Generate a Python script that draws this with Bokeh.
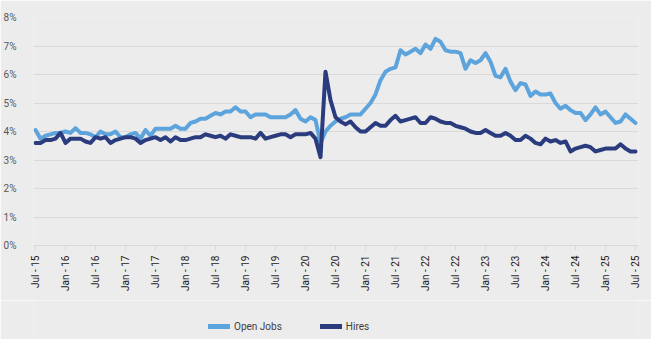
import math
from bokeh.plotting import figure
from bokeh.layouts import column
from bokeh.models import FixedTicker, Legend, LegendItem
from bokeh.embed import file_html
from bokeh.resources import INLINE

tick_labels = ["Jul - 15", "Jan - 16", "Jul - 16", "Jan - 17", "Jul - 17", "Jan - 18",
               "Jul - 18", "Jan - 19", "Jul - 19", "Jan - 20", "Jul - 20", "Jan - 21",
               "Jul - 21", "Jan - 22", "Jul - 22", "Jan - 23", "Jul - 23", "Jan - 24",
               "Jul - 24", "Jan - 25", "Jul - 25"]

y_ticks = [0, 1, 2, 3, 4, 5, 6, 7, 8]

series_names = ["Open Jobs", "Hires"]

# monthly rates (%), Jul 2015 .. Jul 2025
open_jobs = [4.05, 3.75, 3.85, 3.9, 3.95, 3.95, 4.0, 3.95, 4.12, 3.95, 3.95, 3.9,
             3.8, 4.0, 3.9, 3.9, 4.0, 3.8, 3.8, 3.9, 3.95, 3.75, 4.05, 3.85,
             4.1, 4.1, 4.1, 4.1, 4.2, 4.1, 4.1, 4.3, 4.35, 4.45, 4.45, 4.55,
             4.65, 4.6, 4.7, 4.7, 4.85, 4.7, 4.7, 4.5, 4.6, 4.6, 4.6, 4.5,
             4.5, 4.5, 4.5, 4.6, 4.75, 4.45, 4.35, 4.5, 4.4, 3.6, 4.0, 4.2,
             4.35, 4.45, 4.5, 4.6, 4.6, 4.6, 4.8, 5.0, 5.3, 5.8, 6.1, 6.2,
             6.25, 6.85, 6.7, 6.8, 6.9, 6.75, 7.05, 6.9, 7.25, 7.15, 6.85, 6.8,
             6.8, 6.75, 6.2, 6.5, 6.4, 6.5, 6.75, 6.45, 5.95, 5.9, 6.2, 5.75,
             5.45, 5.7, 5.65, 5.25, 5.4, 5.3, 5.3, 5.33, 5.0, 4.8, 4.9, 4.75,
             4.65, 4.65, 4.4, 4.6, 4.85, 4.6, 4.7, 4.5, 4.3, 4.35, 4.6, 4.45,
             4.3]

hires = [3.6, 3.6, 3.7, 3.7, 3.75, 3.95, 3.6, 3.75, 3.75, 3.75, 3.65, 3.6,
         3.8, 3.75, 3.8, 3.6, 3.7, 3.75, 3.8, 3.8, 3.75, 3.6, 3.7, 3.75,
         3.8, 3.7, 3.8, 3.65, 3.8, 3.7, 3.7, 3.75, 3.8, 3.8, 3.9, 3.85,
         3.8, 3.85, 3.75, 3.9, 3.85, 3.8, 3.8, 3.8, 3.75, 3.95, 3.75, 3.8,
         3.85, 3.9, 3.9, 3.8, 3.9, 3.9, 3.9, 3.95, 3.75, 3.1, 6.1, 5.1,
         4.5, 4.35, 4.25, 4.35, 4.15, 4.0, 4.0, 4.15, 4.3, 4.2, 4.2, 4.4,
         4.55, 4.35, 4.4, 4.45, 4.5, 4.3, 4.3, 4.5, 4.45, 4.35, 4.3, 4.3,
         4.2, 4.15, 4.1, 4.0, 3.95, 3.95, 4.05, 3.95, 3.85, 3.85, 3.95, 3.85,
         3.7, 3.7, 3.85, 3.75, 3.6, 3.55, 3.75, 3.65, 3.7, 3.6, 3.65, 3.3,
         3.4, 3.45, 3.5, 3.45, 3.3, 3.35, 3.4, 3.4, 3.4, 3.55, 3.4, 3.3,
         3.3]

x = list(range(len(open_jobs)))
tick_pos = [i * 6 for i in range(len(tick_labels))]

BG = "#ECECEC"
GRID = "#D9D9D9"
FONT = "Roboto"
C_OPEN = "#5DA3DC"
C_HIRES = "#2B3C7E"

p = figure(width=651, height=300, output_backend="svg", toolbar_location=None,
           x_range=(-0.4, 120.6), y_range=(0, 8),
           min_border_left=33, min_border_right=13, min_border_top=17,
           min_border_bottom=55)
p.background_fill_color = BG
p.border_fill_color = BG
p.outline_line_color = None

p.line(x, open_jobs, line_color=C_OPEN, line_width=4,
       line_join="round", line_cap="round")
p.line(x, hires, line_color=C_HIRES, line_width=4,
       line_join="round", line_cap="round")

# y axis
p.yaxis.ticker = FixedTicker(ticks=y_ticks)
p.yaxis.major_label_overrides = {t: f"{t}%" for t in y_ticks}
p.yaxis.axis_line_color = None
p.yaxis.major_tick_line_color = None
p.yaxis.minor_tick_line_color = None
p.yaxis.major_label_standoff = 11
p.yaxis.major_label_text_font = FONT
p.yaxis.major_label_text_font_size = "10px"
p.yaxis.major_label_text_color = "#595959"

# x axis
p.xaxis.ticker = FixedTicker(ticks=tick_pos)
p.xaxis.major_label_overrides = {t: l for t, l in zip(tick_pos, tick_labels)}
p.xaxis.major_label_orientation = math.pi / 2
p.xaxis.axis_line_color = GRID
p.xaxis.major_tick_line_color = GRID
p.xaxis.major_tick_out = 5
p.xaxis.major_tick_in = 0
p.xaxis.minor_tick_line_color = None
p.xaxis.major_label_standoff = 5
p.xaxis.major_label_text_font = FONT
p.xaxis.major_label_text_font_size = "10px"
p.xaxis.major_label_text_color = "#1A1A1A"

p.xgrid.visible = False
p.ygrid.ticker = FixedTicker(ticks=y_ticks[1:])
p.ygrid.grid_line_color = GRID
p.ygrid.grid_line_width = 1

# legend strip below the chart (series lines kept out of its view range)
lg = figure(width=651, height=39, output_backend="svg", toolbar_location=None,
            x_range=(0, 1), y_range=(100, 101), min_border=0,
            min_border_left=0, min_border_right=0, min_border_top=0,
            min_border_bottom=0)
lg.background_fill_color = BG
lg.border_fill_color = BG
lg.outline_line_color = None
lg.axis.visible = False
lg.grid.visible = False
k1 = lg.line(x, open_jobs, line_color=C_OPEN, line_width=5, line_cap="round")
k2 = lg.line(x, hires, line_color=C_HIRES, line_width=5, line_cap="round")

legend = Legend(items=[LegendItem(label=series_names[0], renderers=[k1]),
                       LegendItem(label=series_names[1], renderers=[k2])],
                orientation="horizontal", location=(175, 3),
                background_fill_alpha=0, border_line_color=None,
                label_text_font=FONT, label_text_font_size="10px",
                label_text_color="#404040", glyph_width=22, glyph_height=20,
                spacing=38, padding=0, margin=0, label_standoff=4)
lg.add_layout(legend)

layout = column(p, lg, spacing=0)
open("out.html", "w").write(file_html(layout, INLINE))
